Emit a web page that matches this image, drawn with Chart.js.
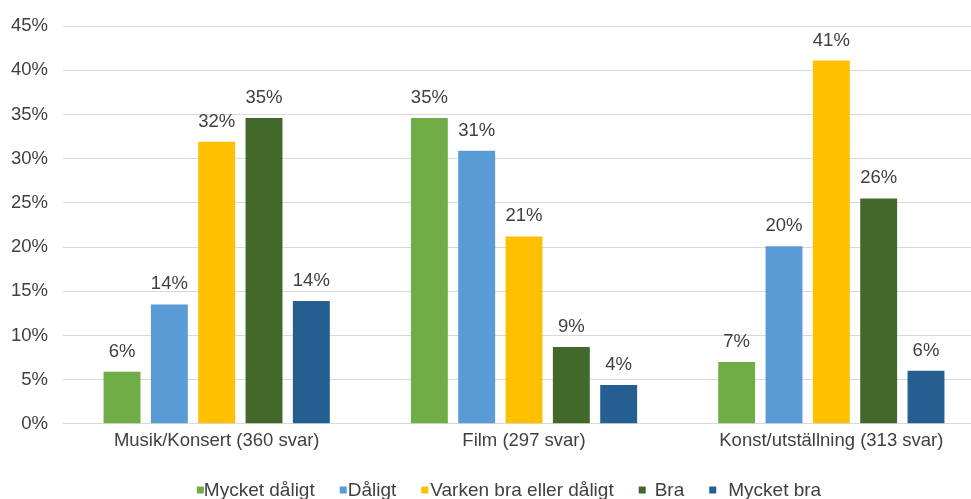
<!DOCTYPE html>
<html>
<head>
<meta charset="utf-8">
<script src="https://cdn.jsdelivr.net/npm/chart.js@4"></script>
<style>
  html, body { margin: 0; padding: 0; background: #fff; overflow: hidden; }
  #wrap { width: 986px; height: 499px; }
</style>
</head>
<body>
<div id="wrap"><canvas id="chart" width="986" height="499"></canvas></div>
<script>
const categories = ['Musik/Konsert (360 svar)', 'Film (297 svar)', 'Konst/utställning (313 svar)'];
const seriesNames = ['Mycket dåligt', 'Dåligt', 'Varken bra eller dåligt', 'Bra', 'Mycket bra'];
const mycketDaligt = [5.9, 34.6, 7.0];
const daligt = [13.5, 30.9, 20.1];
const varken = [31.9, 21.2, 41.1];
const bra = [34.6, 8.7, 25.5];
const mycketBra = [13.9, 4.4, 6.0];
const colors = ['#70AD47', '#5B9BD5', '#FFC000', '#43682B', '#255E91'];

const seriesValues = [mycketDaligt, daligt, varken, bra, mycketBra];
const FONT = '"Liberation Sans", Arial, sans-serif';
const TEXT = '#404040';

// value labels above each bar
const barLabels = {
    id: 'barLabels',
    afterDatasetsDraw(chart) {
        const ctx = chart.ctx;
        ctx.save();
        ctx.font = '18.5px ' + FONT;
        ctx.fillStyle = TEXT;
        ctx.textAlign = 'center';
        ctx.textBaseline = 'alphabetic';
        chart.data.datasets.forEach((ds, i) => {
            chart.getDatasetMeta(i).data.forEach((bar, j) => {
                ctx.fillText(Math.round(ds.data[j]) + '%', bar.x, bar.y - 15);
            });
        });
        ctx.restore();
    }
};

// excel style legend: small square close to the text
const bottomLegend = {
    id: 'bottomLegend',
    afterDraw(chart) {
        const ctx = chart.ctx;
        const gaps = [7, 8, 9, 16, 19];
        const itemGap = 25;
        ctx.save();
        ctx.font = '19px ' + FONT;
        ctx.textBaseline = 'middle';
        const widths = chart.data.datasets.map(ds => ctx.measureText(ds.label).width);
        let total = 0;
        widths.forEach((w, i) => { total += gaps[i] + w; });
        total += itemGap * (widths.length - 1);
        let x = chart.width / 2 + 16 - total / 2;
        const y = 490;
        chart.data.datasets.forEach((ds, i) => {
            ctx.fillStyle = ds.backgroundColor;
            ctx.fillRect(x, y - 3.5, 7, 7);
            ctx.fillStyle = TEXT;
            ctx.fillText(ds.label, x + gaps[i], y + 1);
            x += gaps[i] + widths[i] + itemGap;
        });
        ctx.restore();
    }
};

Chart.defaults.font.family = FONT;
Chart.defaults.font.size = 18.5;
Chart.defaults.color = TEXT;

new Chart(document.getElementById('chart').getContext('2d'), {
    type: 'bar',
    data: {
        labels: categories,
        datasets: seriesNames.map((name, i) => ({
            label: name,
            data: seriesValues[i],
            backgroundColor: colors[i],
            borderWidth: 0,
            categoryPercentage: 0.77,
            barPercentage: 0.78
        }))
    },
    options: {
        responsive: false,
        animation: false,
        layout: { padding: { left: -4, right: 1, top: 10, bottom: 41 } },
        scales: {
            x: {
                grid: { display: false, drawTicks: false },
                border: { color: '#d9d9d9' },
                ticks: { color: TEXT, padding: 6 }
            },
            y: {
                min: 0,
                max: 45,
                grid: { color: '#d9d9d9', drawTicks: false },
                border: { display: false },
                ticks: {
                    stepSize: 5,
                    padding: 15,
                    color: TEXT,
                    callback: v => v + '%'
                }
            }
        },
        plugins: {
            legend: { display: false },
            tooltip: { enabled: false }
        }
    },
    plugins: [barLabels, bottomLegend]
});
</script>
</body>
</html>
